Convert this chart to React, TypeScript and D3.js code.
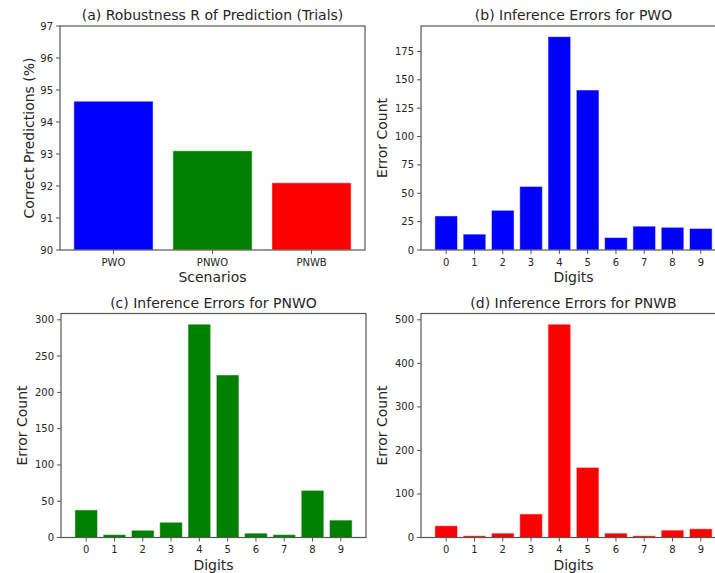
import React from 'react';
import * as d3 from 'd3';

// panel (a)
const scenarios = ['PWO', 'PNWO', 'PNWB'];
const robustness = [94.65, 93.1, 92.1];
const robustnessTicks = [90, 91, 92, 93, 94, 95, 96, 97];

// panels (b)-(d)
const digits = ['0', '1', '2', '3', '4', '5', '6', '7', '8', '9'];
const errorsPWO = [30, 14, 35, 56, 188, 141, 11, 21, 20, 19];
const errorsPNWO = [38, 4, 10, 21, 294, 224, 6, 4, 65, 24];
const errorsPNWB = [27, 4, 10, 54, 490, 161, 10, 4, 17, 20];
const ticksPWO = [0, 25, 50, 75, 100, 125, 150, 175];
const ticksPNWO = [0, 50, 100, 150, 200, 250, 300];
const ticksPNWB = [0, 100, 200, 300, 400, 500];

const FONT = '"DejaVu Sans", sans-serif';
const TEXT = '#262626';
const SPINE = '#555';

interface PanelProps {
    left: number;
    top: number;
    width: number;
    height: number;
    title: string;
    xLabel: string;
    yLabel: string;
    labelOffset: number;
    categories: string[];
    values: number[];
    colors: string[];
    yDomain: [number, number];
    yTicks: number[];
}

const Panel: React.FC<PanelProps> = ({
    left, top, width, height, title, xLabel, yLabel, labelOffset,
    categories, values, colors, yDomain, yTicks,
}) => {
    const n = categories.length;
    const x = d3.scaleBand<string>()
        .domain(categories)
        .range([0, width])
        .paddingInner(0.2)
        .paddingOuter(0.05 * (n - 0.2));
    const y = d3.scaleLinear().domain(yDomain).range([height, 0]);

    return (
        <g transform={`translate(${left},${top})`} fontFamily={FONT}>
            {values.map((v, i) => (
                <rect
                    key={i}
                    x={x(categories[i])}
                    y={y(v)}
                    width={x.bandwidth()}
                    height={height - y(v)}
                    fill={colors[i % colors.length]}
                    stroke="#fff"
                    strokeOpacity={0.5}
                    strokeWidth={1}
                />
            ))}
            <rect x={0} y={0} width={width} height={height} fill="none" stroke={SPINE} strokeWidth={1.2} />
            {yTicks.map(t => (
                <g key={t} transform={`translate(0,${y(t)})`}>
                    <line x1={-4} x2={0} stroke={SPINE} />
                    <text x={-7} dy="0.35em" textAnchor="end" fontSize={10} fill={TEXT}>{t}</text>
                </g>
            ))}
            {categories.map(c => (
                <g key={c} transform={`translate(${(x(c) ?? 0) + x.bandwidth() / 2},${height})`}>
                    <line y1={0} y2={4} stroke={SPINE} />
                    <text y={15.5} textAnchor="middle" fontSize={10} fill={TEXT}>{c}</text>
                </g>
            ))}
            <text x={width / 2} y={-6} textAnchor="middle" fontSize={14} fill={TEXT}>{title}</text>
            <text x={width / 2} y={height + 32} textAnchor="middle" fontSize={14} fill={TEXT}>{xLabel}</text>
            <text
                transform={`translate(${-labelOffset},${height / 2}) rotate(-90)`}
                textAnchor="middle"
                dy="0.35em"
                fontSize={14}
                fill={TEXT}
            >
                {yLabel}
            </text>
        </g>
    );
};

export default function App() {
    const w = 305;
    const h = 224;
    return (
        <svg
            width={715}
            height={573}
            style={{ position: 'absolute', left: 0, top: 0, background: '#fff' }}
        >
            <rect width={715} height={573} fill="#fff" />
            <Panel
                left={60} top={26} width={w} height={h}
                title="(a) Robustness R of Prediction (Trials)"
                xLabel="Scenarios" yLabel="Correct Predictions (%)" labelOffset={31}
                categories={scenarios} values={robustness}
                colors={['#0000ff', '#008000', '#ff0000']}
                yDomain={[90, 97]} yTicks={robustnessTicks}
            />
            <Panel
                left={421} top={26} width={w} height={h}
                title="(b) Inference Errors for PWO"
                xLabel="Digits" yLabel="Error Count" labelOffset={39}
                categories={digits} values={errorsPWO}
                colors={['#0000ff']}
                yDomain={[0, d3.max(errorsPWO)! * 1.05]} yTicks={ticksPWO}
            />
            <Panel
                left={61} top={313.5} width={w} height={h}
                title="(c) Inference Errors for PNWO"
                xLabel="Digits" yLabel="Error Count" labelOffset={39}
                categories={digits} values={errorsPNWO}
                colors={['#008000']}
                yDomain={[0, d3.max(errorsPNWO)! * 1.05]} yTicks={ticksPNWO}
            />
            <Panel
                left={421} top={313.5} width={w} height={h}
                title="(d) Inference Errors for PNWB"
                xLabel="Digits" yLabel="Error Count" labelOffset={39}
                categories={digits} values={errorsPNWB}
                colors={['#ff0000']}
                yDomain={[0, d3.max(errorsPNWB)! * 1.05]} yTicks={ticksPNWB}
            />
        </svg>
    );
}
